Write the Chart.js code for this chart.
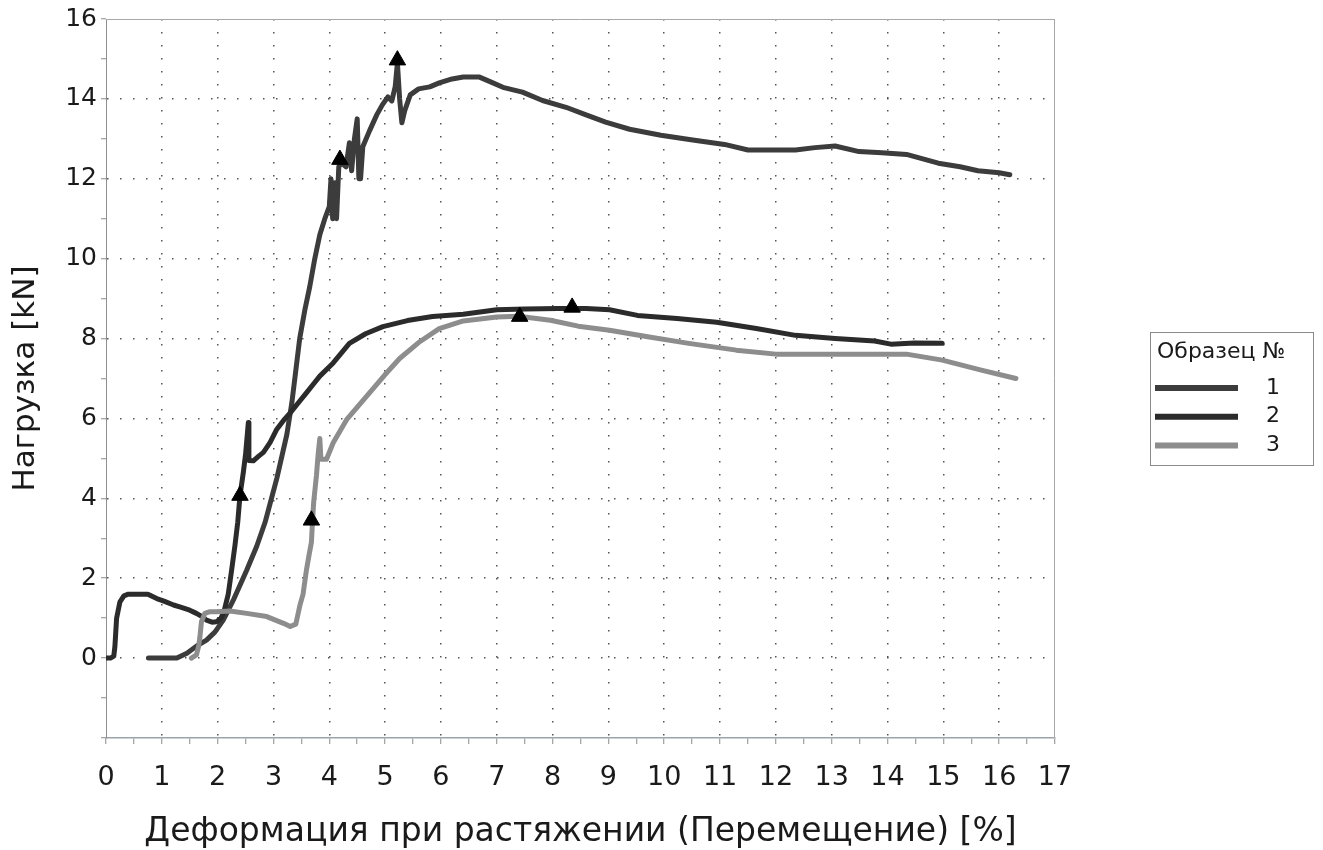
<!DOCTYPE html>
<html lang="ru">
<head>
<meta charset="utf-8">
<title>Нагрузка – деформация</title>
<script src="https://cdn.jsdelivr.net/npm/chart.js@4.4.1/dist/chart.umd.min.js"></script>
<style>
  html, body { margin: 0; padding: 0; background: #fff; }
  canvas { display: block; }
</style>
</head>
<body>
<canvas id="loadChart" width="1323" height="850"></canvas>
<script>
// Кривые нагрузка / деформация для трёх образцов.
const specimens = ['1', '2', '3'];

const strain1 = [0.76, 1.0, 1.27, 1.45, 1.62, 1.80, 1.95, 2.10, 2.28, 2.52, 2.70, 2.85, 3.06, 3.24, 3.33, 3.40,
  3.47, 3.56, 3.65, 3.74, 3.83, 3.92, 4.00, 4.03, 4.06, 4.10, 4.13, 4.17, 4.22, 4.30, 4.36, 4.40, 4.45, 4.50,
  4.53, 4.56, 4.60, 4.72, 4.85, 4.95, 5.05, 5.12, 5.18, 5.22, 5.26, 5.30, 5.35, 5.45, 5.6, 5.8, 5.97, 6.2, 6.4,
  6.68, 6.9, 7.11, 7.46, 7.82, 8.24, 8.6, 8.95, 9.38, 9.94, 10.51, 11.08, 11.50, 11.9, 12.35, 12.7, 13.06,
  13.49, 13.9, 14.34, 14.91, 15.3, 15.62, 16.0, 16.19];
const load1 = [0, 0, 0, 0.12, 0.3, 0.45, 0.65, 0.95, 1.45, 2.2, 2.8, 3.4, 4.5, 5.6, 6.4, 7.2,
  8.0, 8.7, 9.3, 10.0, 10.6, 11.0, 11.3, 12.0, 11.0, 11.9, 11.0, 12.3, 12.4, 12.3, 12.9, 12.2, 13.0, 13.5,
  12.0, 12.0, 12.8, 13.2, 13.6, 13.85, 14.05, 13.95, 14.3, 14.9, 14.0, 13.4, 13.7, 14.1, 14.25, 14.3, 14.4, 14.5, 14.55,
  14.55, 14.42, 14.29, 14.17, 13.96, 13.79, 13.6, 13.42, 13.24, 13.09, 12.97, 12.86, 12.72, 12.72, 12.72, 12.78, 12.82,
  12.68, 12.65, 12.61, 12.39, 12.3, 12.2, 12.15, 12.1];

const strain2 = [0.0, 0.08, 0.14, 0.16, 0.19, 0.25, 0.32, 0.4, 0.6, 0.75, 0.91, 1.05, 1.21, 1.35, 1.5, 1.62,
  1.72, 1.80, 1.90, 1.98, 2.06, 2.12, 2.19, 2.25, 2.31, 2.36, 2.40, 2.46, 2.50, 2.55, 2.56, 2.64, 2.73, 2.82,
  2.94, 3.06, 3.18, 3.30, 3.45, 3.59, 3.71, 3.83, 4.07, 4.36, 4.65, 4.96, 5.4, 5.85, 6.4, 7.0, 7.5, 8.1, 8.6,
  9.02, 9.52, 10.23, 10.94, 11.65, 12.35, 13.06, 13.77, 14.06, 14.48, 14.98];
const load2 = [0, 0, 0.05, 0.3, 1.0, 1.41, 1.56, 1.6, 1.6, 1.6, 1.49, 1.42, 1.33, 1.27, 1.2, 1.12,
  1.04, 0.95, 0.9, 0.91, 1.0, 1.2, 1.6, 2.2, 2.82, 3.4, 4.07, 4.65, 5.1, 5.9, 4.95, 4.94, 5.05, 5.15,
  5.4, 5.73, 5.95, 6.14, 6.4, 6.64, 6.85, 7.06, 7.39, 7.88, 8.12, 8.3, 8.45, 8.55, 8.61, 8.72, 8.74, 8.75, 8.75,
  8.72, 8.58, 8.5, 8.41, 8.25, 8.08, 8.0, 7.94, 7.86, 7.89, 7.88];

const strain3 = [1.53, 1.62, 1.66, 1.68, 1.71, 1.77, 1.85, 1.98, 2.22, 2.52, 2.88, 3.18, 3.30, 3.40, 3.47, 3.53,
  3.59, 3.64, 3.68, 3.70, 3.72, 3.77, 3.80, 3.83, 3.85, 3.95, 4.07, 4.31, 4.67, 5.0, 5.26, 5.6, 5.97, 6.4,
  7.0, 7.39, 7.96, 8.46, 9.02, 9.73, 10.44, 11.29, 12.0, 13.06, 14.34, 14.98, 15.68, 16.3];
const load3 = [0, 0.08, 0.3, 0.5, 0.91, 1.12, 1.16, 1.16, 1.18, 1.12, 1.04, 0.87, 0.79, 0.85, 1.3, 1.6,
  2.2, 2.6, 2.9, 3.45, 3.9, 4.57, 5.1, 5.5, 4.98, 4.98, 5.39, 5.97, 6.56, 7.1, 7.5, 7.9, 8.25, 8.44,
  8.54, 8.56, 8.46, 8.31, 8.21, 8.04, 7.88, 7.71, 7.61, 7.61, 7.61, 7.46, 7.21, 7.0];

// отметки (треугольники) на кривых
const markStrain1 = [4.19, 5.22];
const markLoad1 = [12.48, 14.97];
const markStrain2 = [2.40, 8.35];
const markLoad2 = [4.07, 8.78];
const markStrain3 = [3.68, 7.41];
const markLoad3 = [3.45, 8.55];

const xTitle = 'Деформация при растяжении (Перемещение) [%]';
const yTitle = 'Нагрузка [kN]';
const legendTitle = 'Образец №';

const FONT = "'DejaVu Sans', Verdana, sans-serif";
const gridDots = '#555555';

function toPoints(xs, ys) {
  return xs.map((x, i) => ({ x: x, y: ys[i] }));
}

function curve(label, xs, ys, color, order) {
  return {
    type: 'line',
    label: label,
    data: toPoints(xs, ys),
    borderColor: color,
    backgroundColor: color,
    borderWidth: 5,
    pointRadius: 0,
    tension: 0,
    borderJoinStyle: 'round',
    borderCapStyle: 'round',
    order: order,
  };
}

function marks(xs, ys) {
  return {
    type: 'scatter',
    label: '',
    isMark: true,
    data: toPoints(xs, ys),
    pointStyle: 'triangle',
    pointRadius: 9.5,
    pointBackgroundColor: '#000',
    pointBorderColor: '#000',
    pointBorderWidth: 1,
    order: 0,
  };
}

// рамка области графика сверху и справа
const frame = {
  id: 'frame',
  beforeDatasetsDraw(chart) {
    const { ctx, chartArea: a } = chart;
    ctx.save();
    ctx.lineWidth = 1;
    ctx.strokeStyle = '#a8a8a8';
    ctx.beginPath();
    ctx.moveTo(a.left, a.top + 0.5);
    ctx.lineTo(a.right, a.top + 0.5);
    ctx.moveTo(a.right - 0.5, a.top);
    ctx.lineTo(a.right - 0.5, a.bottom);
    ctx.stroke();
    ctx.restore();
  },
};

// легенда в рамке справа
const boxLegend = {
  id: 'boxLegend',
  afterDraw(chart) {
    const ctx = chart.ctx;
    const left = 1150, top = 332, right = 1313, bottom = 465;
    ctx.save();
    ctx.strokeStyle = '#8a8a8a';
    ctx.lineWidth = 1;
    ctx.strokeRect(left + 0.5, top + 0.5, right - left, bottom - top);
    ctx.fillStyle = '#1a1a1a';
    ctx.font = '22px ' + FONT;
    ctx.textBaseline = 'middle';
    ctx.textAlign = 'left';
    ctx.fillText(legendTitle, left + 7, top + 20);
    const lines = chart.data.datasets.filter((d) => !d.isMark);
    lines.forEach((d, i) => {
      const y = top + 56 + i * 28.7;
      ctx.strokeStyle = d.borderColor;
      ctx.lineWidth = 6;
      ctx.beginPath();
      ctx.moveTo(left + 5, y);
      ctx.lineTo(left + 88, y);
      ctx.stroke();
      ctx.textAlign = 'center';
      ctx.fillText(d.label, left + 123, y);
    });
    ctx.restore();
  },
};

const ctx = document.getElementById('loadChart').getContext('2d');

new Chart(ctx, {
  data: {
    datasets: [
      curve(specimens[0], strain1, load1, '#3c3c3c', 3),
      curve(specimens[1], strain2, load2, '#2b2b2b', 2),
      curve(specimens[2], strain3, load3, '#8d8d8d', 1),
      marks(markStrain1, markLoad1),
      marks(markStrain2, markLoad2),
      marks(markStrain3, markLoad3),
    ],
  },
  options: {
    responsive: false,
    animation: false,
    layout: { padding: { left: 0, right: 268, top: 16, bottom: 0 } },
    plugins: {
      legend: { display: false },
      tooltip: { enabled: false },
    },
    scales: {
      x: {
        type: 'linear',
        min: 0,
        max: 17,
        afterFit(scale) { scale.height = 112; },
        ticks: {
          stepSize: 0.5,
          autoSkip: false,
          maxRotation: 0,
          padding: 18,
          color: '#1a1a1a',
          font: { family: FONT, size: 27 },
          callback: (v) => (Number.isInteger(v) ? v : ''),
        },
        grid: {
          color: (c) => (Number.isInteger(c.tick.value) && c.tick.value > 0 && c.tick.value < 17 ? gridDots : 'transparent'),
          lineWidth: 1.5,
          tickColor: '#8a8a8a',
          tickLength: 6,
          tickWidth: 1,
          tickBorderDash: [],
        },
        border: { color: '#9aa4aa', width: 1.5, dash: [1.5, 11.5] },
        title: {
          display: true,
          text: xTitle,
          color: '#1a1a1a',
          font: { family: FONT, size: 33, lineHeight: 1 },
          padding: { top: 0, bottom: 1 },
        },
      },
      y: {
        type: 'linear',
        min: -2,
        max: 16,
        afterFit(scale) { scale.width = 106; },
        ticks: {
          stepSize: 1,
          autoSkip: false,
          padding: 4,
          color: '#1a1a1a',
          font: { family: FONT, size: 25 },
          callback: (v) => (v >= 0 && v % 2 === 0 ? v : ''),
        },
        grid: {
          color: (c) => (c.tick.value % 2 === 0 && c.tick.value > -2 && c.tick.value < 16 ? gridDots : 'transparent'),
          lineWidth: 1.5,
          tickColor: '#8a8a8a',
          tickLength: 5,
          tickWidth: 1,
          tickBorderDash: [],
        },
        border: { color: '#8f8f8f', width: 1, dash: [1.5, 11.5] },
        title: {
          display: true,
          text: yTitle,
          color: '#1a1a1a',
          font: { family: FONT, size: 31, lineHeight: 1 },
          padding: { top: 10, bottom: 0 },
        },
      },
    },
  },
  plugins: [frame, boxLegend],
});
</script>
</body>
</html>
